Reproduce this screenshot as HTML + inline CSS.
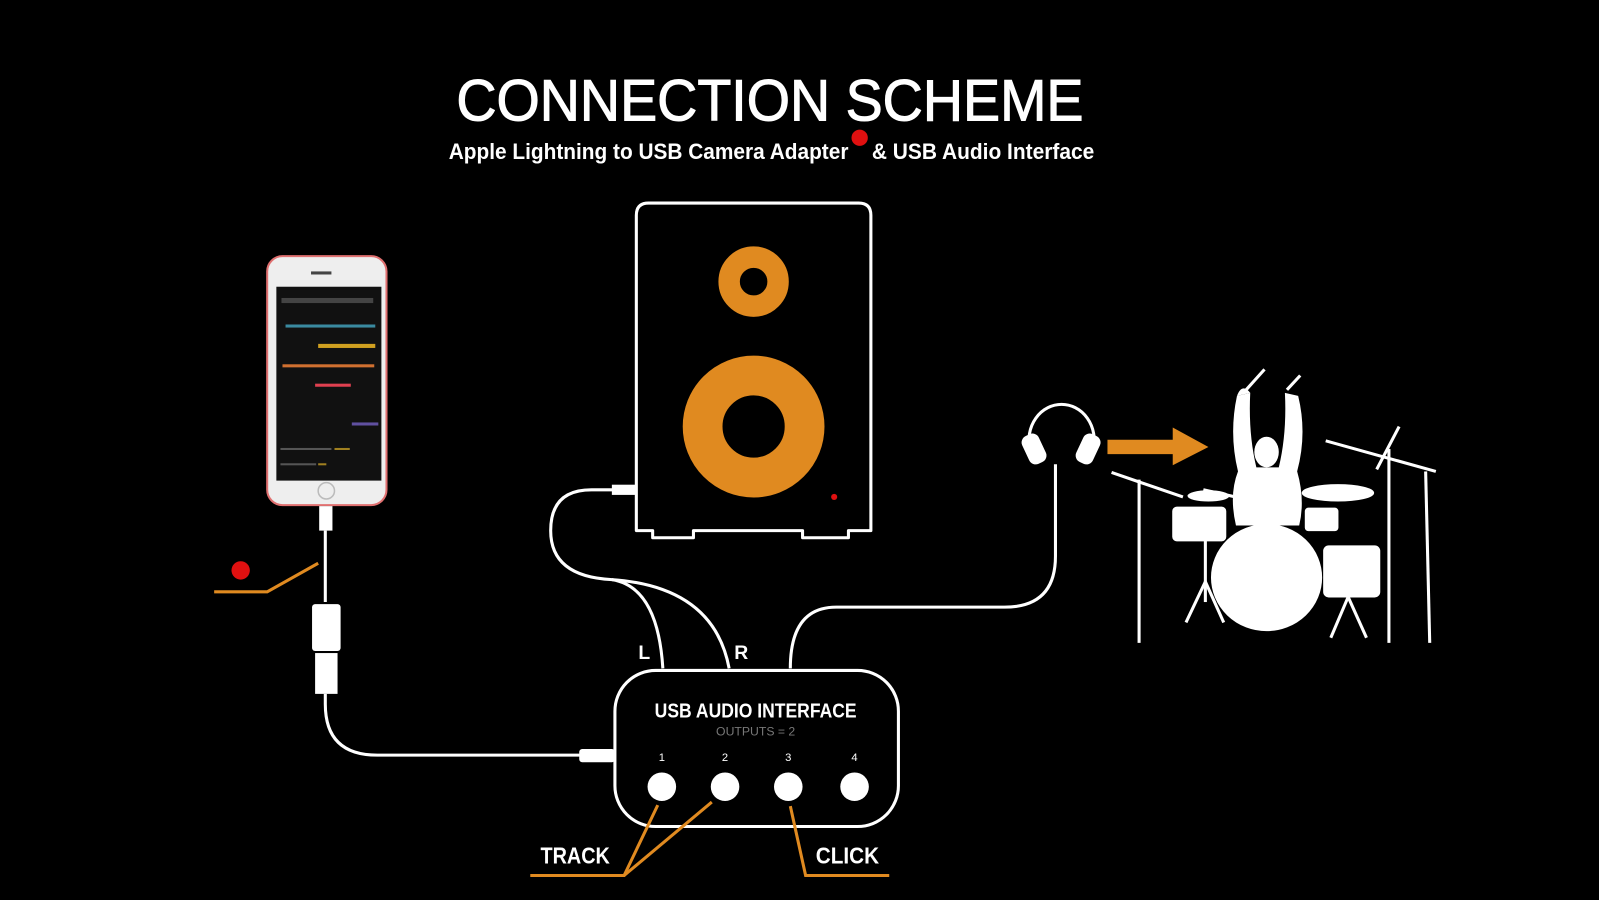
<!DOCTYPE html>
<html><head><meta charset="utf-8"><style>
html,body{margin:0;padding:0;background:#000;width:1599px;height:900px;overflow:hidden}
svg{display:block}
text{font-family:"Liberation Sans",sans-serif;fill:#fff}
</style></head><body>
<svg width="1599" height="900" viewBox="0 0 1568 882" preserveAspectRatio="none">
<rect width="1568" height="882" fill="#000"/>
<!-- title -->
<text x="755" y="118" text-anchor="middle" font-size="57" textLength="615" lengthAdjust="spacingAndGlyphs" stroke="#fff" stroke-width="1">CONNECTION SCHEME</text>
<text x="440" y="156" font-size="22" font-weight="bold" textLength="392" lengthAdjust="spacingAndGlyphs">Apple Lightning to USB Camera Adapter</text>
<circle cx="843" cy="135" r="8" fill="#e01010"/>
<text x="855" y="156" font-size="22" font-weight="bold" textLength="218" lengthAdjust="spacingAndGlyphs">&amp; USB Audio Interface</text>

<!-- phone -->
<rect x="262" y="251" width="117" height="244" rx="15" fill="#eee" stroke="#e07070" stroke-width="2"/>
<rect x="271" y="281" width="103" height="190" fill="#111"/>
<rect x="305" y="266" width="20" height="3" fill="#444"/>
<circle cx="320" cy="481" r="8" fill="none" stroke="#bbb" stroke-width="1.5"/>
<rect x="280" y="318" width="88" height="3" fill="#3a8aa0"/>
<rect x="312" y="337" width="56" height="4" fill="#d0a020"/>
<rect x="277" y="357" width="90" height="3" fill="#d07030"/>
<rect x="309" y="376" width="35" height="3" fill="#e04050"/>
<rect x="345" y="414" width="26" height="3" fill="#6050a0"/>
<rect x="276" y="292" width="90" height="5" fill="#444"/>
<rect x="275" y="439" width="50" height="2" fill="#555"/><rect x="328" y="439" width="15" height="2" fill="#a08020"/>
<rect x="275" y="454" width="35" height="2" fill="#555"/><rect x="312" y="454" width="8" height="2" fill="#a08020"/>

<!-- lightning cable -->
<g stroke="#fff" fill="none" stroke-width="3">
<path d="M319 520 V590"/>
<path d="M319 680 V690 Q319 740 370 740 H575"/>
</g>
<rect x="313" y="496" width="13" height="24" fill="#fff"/>
<rect x="306" y="592" width="28" height="46" rx="3" fill="#fff"/>
<rect x="309" y="640" width="22" height="40" fill="#fff"/>
<rect x="568" y="734" width="35" height="13" rx="3" fill="#fff"/>

<!-- callout 1 -->
<circle cx="236" cy="559" r="9" fill="#e01010"/>
<polyline points="210,580 262,580 312,552" fill="none" stroke="#e08a20" stroke-width="3"/>

<!-- speaker -->
<path d="M636 199 H842 Q854 199 854 211 V520 H832 V527 H787 V520 H680 V527 H640 V520 H624 V211 Q624 199 636 199 Z" fill="none" stroke="#fff" stroke-width="3" stroke-linejoin="round"/>
<circle cx="739" cy="276" r="24" fill="none" stroke="#e08a20" stroke-width="21"/>
<circle cx="739" cy="418" r="50" fill="none" stroke="#e08a20" stroke-width="39"/>
<circle cx="818" cy="487" r="3" fill="#e01010"/>

<!-- speaker cables -->
<g stroke="#fff" fill="none" stroke-width="3">
<path d="M624 480 H580 Q540 480 540 520 Q540 565 600 568 Q645 575 650 655"/>
<path d="M600 568 Q700 575 715 655"/>
<path d="M1035 455 V545 Q1035 595 985 595 H820 Q775 595 775 655"/>
</g>
<rect x="600" y="475" width="24" height="10" fill="#fff"/>
<text x="626" y="646" font-size="19" font-weight="bold">L</text>
<text x="720" y="646" font-size="19" font-weight="bold">R</text>

<!-- interface -->
<rect x="603" y="657" width="278" height="153" rx="40" fill="#000" stroke="#fff" stroke-width="3"/>
<text x="741" y="703" text-anchor="middle" font-size="20" font-weight="bold" textLength="198" lengthAdjust="spacingAndGlyphs">USB AUDIO INTERFACE</text>
<text x="741" y="721" text-anchor="middle" font-size="12" style="fill:#777">OUTPUTS = 2</text>
<g font-size="11" text-anchor="middle">
<text x="649" y="746">1</text><text x="711" y="746">2</text><text x="773" y="746">3</text><text x="838" y="746">4</text>
</g>
<g fill="#fff"><circle cx="649" cy="771" r="14"/><circle cx="711" cy="771" r="14"/><circle cx="773" cy="771" r="14"/><circle cx="838" cy="771" r="14"/></g>

<!-- track / click -->
<g stroke="#e08a20" fill="none" stroke-width="3">
<polyline points="520,858 612,858 645,789"/>
<polyline points="612,858 698,786"/>
<polyline points="775,790 790,858 872,858"/>
</g>
<text x="530" y="846" font-size="23" font-weight="bold" textLength="68" lengthAdjust="spacingAndGlyphs">TRACK</text>
<text x="800" y="846" font-size="23" font-weight="bold" textLength="62" lengthAdjust="spacingAndGlyphs">CLICK</text>

<!-- headphones -->
<path d="M1010 440 A32 35 0 1 1 1072 440" fill="none" stroke="#fff" stroke-width="3"/>
<rect x="1005" y="425" width="18" height="30" rx="7" transform="rotate(-25 1014 440)" fill="#fff"/>
<rect x="1058" y="425" width="18" height="30" rx="7" transform="rotate(25 1067 440)" fill="#fff"/>

<!-- arrow -->
<path d="M1086 431 H1150 V419 L1185 438 L1150 456 V445 H1086 Z" fill="#e08a20"/>

<!-- drummer -->
<g fill="#fff" stroke="#fff">
<g stroke-width="3" fill="none">
<line x1="1117" y1="470" x2="1117" y2="630"/>
<line x1="1090" y1="463" x2="1160" y2="487"/>
<line x1="1362" y1="440" x2="1362" y2="630"/>
<line x1="1300" y1="432" x2="1408" y2="462"/>
<line x1="1350" y1="460" x2="1372" y2="418"/>
<line x1="1398" y1="462" x2="1402" y2="630"/>
<line x1="1222" y1="382" x2="1240" y2="362"/>
<line x1="1262" y1="382" x2="1275" y2="368"/>
<line x1="1182" y1="570" x2="1163" y2="610"/><line x1="1182" y1="570" x2="1200" y2="610"/>
<line x1="1182" y1="530" x2="1182" y2="590"/>
<line x1="1322" y1="585" x2="1305" y2="625"/><line x1="1322" y1="585" x2="1340" y2="625"/>
<line x1="1180" y1="480" x2="1225" y2="490"/>
</g>
<ellipse cx="1242" cy="566" rx="54" ry="52"/>
<rect x="1150" y="497" width="52" height="33" rx="4"/>
<rect x="1298" y="535" width="55" height="50" rx="5"/>
<ellipse cx="1312" cy="483" rx="35" ry="8"/>
<ellipse cx="1185" cy="486" rx="20" ry="5"/>
<rect x="1280" y="498" width="32" height="22" rx="3"/>
<path d="M1212 515 Q1205 485 1214 462 Q1205 425 1213 388 L1226 385 Q1224 425 1232 458 L1254 458 Q1262 425 1260 385 L1273 388 Q1282 425 1272 462 Q1280 490 1274 515 Z" stroke="none"/>
<path d="M1213 388 Q1218 375 1226 385" stroke="none"/>
<ellipse cx="1242" cy="443" rx="12" ry="15" stroke="none"/>
</g>
</svg>
</body></html>
